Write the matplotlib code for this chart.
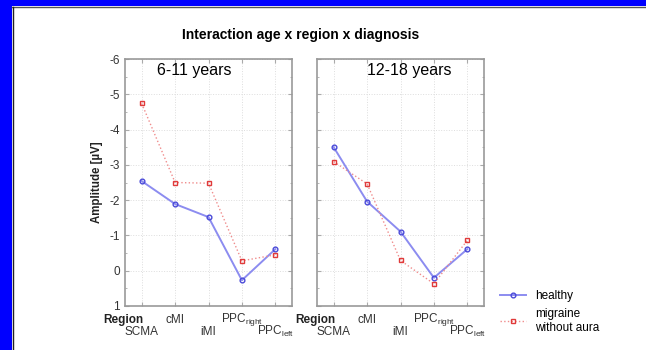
import matplotlib
matplotlib.use("Agg")
import matplotlib.pyplot as plt
from matplotlib.patches import Rectangle
from matplotlib.lines import Line2D
from matplotlib.ticker import MultipleLocator

plt.rcParams['font.family'] = ['Liberation Sans', 'DejaVu Sans']
plt.rcParams['mathtext.fontset'] = 'custom'
plt.rcParams['mathtext.rm'] = 'Liberation Sans'
plt.rcParams['mathtext.default'] = 'regular'

regions = ["SCMA", "cMI", "iMI", "PPC_right", "PPC_left"]
tick_top = ["cMI", "PPC$_{right}$"]
tick_bottom = ["SCMA", "iMI", "PPC$_{left}$"]
panels = ["6-11 years", "12-18 years"]

healthy_young = [-2.54, -1.89, -1.52, 0.27, -0.61]
migraine_young = [-4.74, -2.50, -2.48, -0.28, -0.45]
healthy_old = [-3.50, -1.96, -1.11, 0.20, -0.61]
migraine_old = [-3.09, -2.46, -0.29, 0.37, -0.86]

yticks = [-6, -5, -4, -3, -2, -1, 0, 1]

W, H = 646, 350
fig = plt.figure(figsize=(W / 100, H / 100), dpi=100)
fig.patch.set_facecolor('white')

# blue frame (top and left)
fig.patches.append(Rectangle((0, 1 - 6 / H), 1, 6 / H, transform=fig.transFigure,
                             facecolor='#0000ff', edgecolor='none', zorder=0))
fig.patches.append(Rectangle((0, 0), 12 / W, 1, transform=fig.transFigure,
                             facecolor='#0000ff', edgecolor='none', zorder=0))
fig.lines.append(Line2D([12 / W, 1], [1 - 6.5 / H, 1 - 6.5 / H], transform=fig.transFigure,
                        color='#555555', lw=1))
fig.lines.append(Line2D([12.5 / W, 12.5 / W], [0, 1 - 6.5 / H], transform=fig.transFigure,
                        color='#222222', lw=1))

blue_line = '#8c8cf0'
blue_mark = '#4a4ad8'
red_line = '#f08c8c'
red_mark = '#e03a3a'

axes_left = [125, 317]
data = [(healthy_young, migraine_young), (healthy_old, migraine_old)]
label_x = [0.19, 0.30]
x = list(range(len(regions)))
fs = 8.5

for i in range(2):
    ax = fig.add_axes([axes_left[i] / W, 1 - 306 / H, 167 / W, 247 / H])
    h, m = data[i]
    ax.plot(x, h, '-', color=blue_line, lw=1.4, marker='o', markersize=3.4,
            markerfacecolor='none', markeredgecolor=blue_mark, markeredgewidth=1.0, zorder=3)
    ax.plot(x, m, ':', color=red_line, lw=1.0, marker='s', markersize=3.4,
            markerfacecolor='none', markeredgecolor=red_mark, markeredgewidth=1.0, zorder=3)
    ax.set_xlim(-0.5, 4.5)
    ax.set_ylim(1, -6)
    ax.set_yticks(yticks)
    ax.yaxis.set_minor_locator(MultipleLocator(0.5))
    ax.set_xticks(x)
    ax.set_xticklabels([])
    ax.grid(True, which='major', color='#dddddd', ls=':', lw=0.7)
    ax.tick_params(which='both', direction='in', top=True, right=True, colors='#aaaaaa',
                   labelcolor='#333333', labelsize=fs)
    ax.tick_params(which='major', length=3)
    ax.tick_params(which='minor', length=1.5)
    for s in ax.spines.values():
        s.set_color('#999999')
        s.set_linewidth(1.2)
    if i == 1:
        ax.set_yticklabels([])
    else:
        ax.set_yticklabels([str(v) for v in yticks])
        ax.set_ylabel("Amplitude [µV]", fontsize=8.3, fontweight='bold', color='#222222',
                      labelpad=5)
    ax.text(label_x[i], 0.955, panels[i], transform=ax.transAxes, fontsize=11.5,
            ha='left', va='center', color='black')
    tr = ax.get_xaxis_transform()
    ax.text(0.05, -0.055, "Region", transform=tr, ha='right', va='center', fontsize=fs,
            fontweight='bold', color='#222222')
    for j, lab in zip([1, 3], tick_top):
        ax.text(j, -0.055, lab, transform=tr, ha='center', va='center', fontsize=fs,
                color='#333333')
    for j, lab in zip([0, 2, 4], tick_bottom):
        ax.text(j, -0.105, lab, transform=tr, ha='center', va='center', fontsize=fs,
                color='#333333')

fig.text(301 / W, 1 - 35 / H, "Interaction age x region x diagnosis", ha='center',
         va='center', fontsize=10, fontweight='bold')

handles = [
    Line2D([], [], color=blue_line, lw=1.4, marker='o', markersize=3.4,
           markerfacecolor='none', markeredgecolor=blue_mark),
    Line2D([], [], color=red_line, lw=1.0, ls=':', marker='s', markersize=3.4,
           markerfacecolor='none', markeredgecolor=red_mark),
]
fig.legend(handles, ["healthy", "migraine\nwithout aura"], loc='upper left',
           bbox_to_anchor=(500 / W, 1 - 290 / H), frameon=False, fontsize=8.5,
           handlelength=2.2, handletextpad=0.8, labelspacing=0.5, borderaxespad=0,
           borderpad=0)

fig.savefig("out.png", dpi=100, facecolor='white')
